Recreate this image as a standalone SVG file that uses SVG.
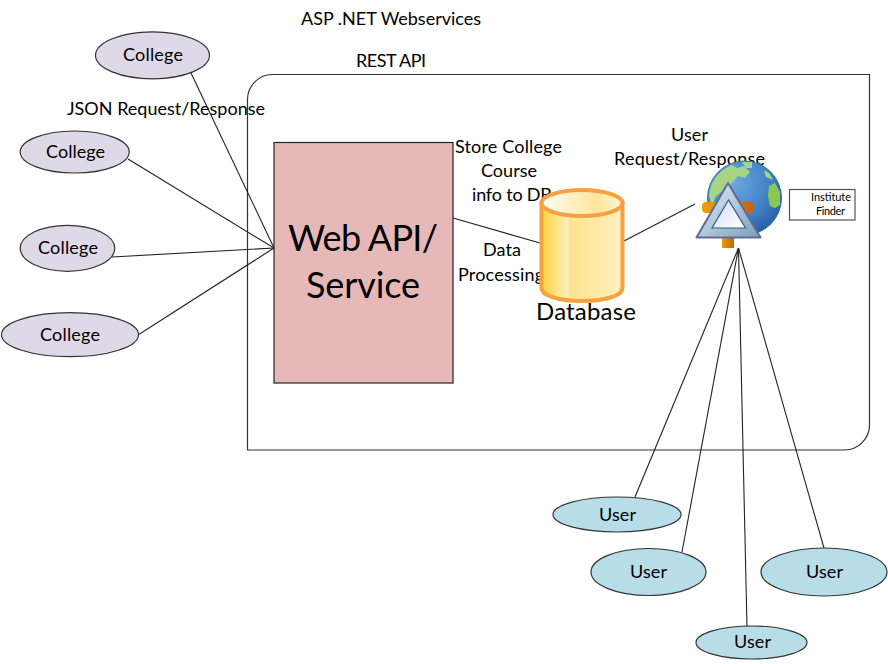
<svg xmlns="http://www.w3.org/2000/svg" width="888" height="664" viewBox="0 0 888 664">
<style>
text{font-family:"Lato","Liberation Sans",sans-serif;font-size:18px;fill:#000;text-anchor:start}
.c{fill:#dfd8e6;stroke:#333;stroke-width:1.2}
.u{fill:#b7dde8;stroke:#333;stroke-width:1.2}
.l{stroke:#222;stroke-width:1.1;fill:none}
</style>
<defs>
<linearGradient id="dbBody" x1="0" x2="1" y1="0" y2="0"><stop offset="0" stop-color="#fdd23a"/><stop offset=".33" stop-color="#fff0c0"/><stop offset=".34" stop-color="#fde28a"/><stop offset="1" stop-color="#fff2c0"/></linearGradient>
<linearGradient id="dbTop" x1="0" x2="1" y1="0" y2="0"><stop offset="0" stop-color="#fffdf5"/><stop offset=".7" stop-color="#fde59a"/><stop offset="1" stop-color="#fff6d8"/></linearGradient>
<radialGradient id="globe" cx=".35" cy=".3" r=".85"><stop offset="0" stop-color="#6ea8e0"/><stop offset=".6" stop-color="#3f7fc4"/><stop offset="1" stop-color="#1f4f98"/></radialGradient>
<linearGradient id="bar" x1="0" x2="1" y1="0" y2="0"><stop offset="0" stop-color="#eea000"/><stop offset="1" stop-color="#c86400"/></linearGradient>
<linearGradient id="tri" x1="0" x2="1" y1="0" y2="1"><stop offset="0" stop-color="#e4f3f6"/><stop offset="1" stop-color="#7d9db8"/></linearGradient>
<linearGradient id="triIn" x1="0" x2="1" y1="0" y2="1"><stop offset="0" stop-color="#d3d8f2"/><stop offset="1" stop-color="#ffffff"/></linearGradient>
</defs>

<g id="boundary"><path d="M247.500 450V99.500A25 25 0 0 1 272.500 74.500H869.500V425A25 25 0 0 1 844.500 450Z" fill="#fff" stroke="#333" stroke-width="1.200"/></g>

<g id="labels">
<text x="301" y="25" textLength="180">ASP .NET Webservices</text>
<text x="356" y="67" textLength="70">REST API</text>
<text x="67" y="115" textLength="198">JSON Request/Response</text>
<text x="455" y="153" textLength="107">Store College</text>
<text x="481" y="177" textLength="56">Course</text>
<text x="472" y="201" textLength="80">info to DB</text>
<text x="483" y="256" textLength="38">Data</text>
<text x="458" y="281" textLength="86">Processing</text>
<text x="671" y="141" textLength="37">User</text>
<text x="614" y="165" textLength="151">Request/Response</text>
</g>

<g id="connectors">
<line class="l" x1="191" y1="73" x2="274" y2="248"/>
<line class="l" x1="128" y1="159" x2="274" y2="248"/>
<line class="l" x1="112" y1="257" x2="274" y2="248"/>
<line class="l" x1="138" y1="335" x2="274" y2="248"/>
<line class="l" x1="453" y1="218" x2="540" y2="243"/>
<line class="l" x1="624" y1="241" x2="695" y2="204"/>
<line class="l" x1="738.500" y1="248" x2="635" y2="497"/>
<line class="l" x1="738.500" y1="248" x2="682" y2="552"/>
<line class="l" x1="738.500" y1="248" x2="747" y2="627"/>
<line class="l" x1="738.500" y1="248" x2="824" y2="548"/>
</g>

<g id="college1"><ellipse class="c" cx="152.500" cy="55.300" rx="57" ry="23.500"/><text x="123" y="61" textLength="60">College</text></g>
<g id="college2"><ellipse class="c" cx="74.700" cy="152" rx="54.500" ry="21"/><text x="46" y="158" textLength="59">College</text></g>
<g id="college3"><ellipse class="c" cx="67.500" cy="248.300" rx="47.300" ry="23"/><text x="38" y="254" textLength="60">College</text></g>
<g id="college4"><ellipse class="c" cx="70" cy="334.700" rx="68.500" ry="22"/><text x="40" y="341" textLength="60">College</text></g>

<g id="webapi"><rect x="274" y="142.500" width="179" height="240.500" fill="#e6b8b7" stroke="#222" stroke-width="1.200"/>
<text x="288" y="251" textLength="150" style="font-size:36px">Web API/</text>
<text x="306" y="298" textLength="114" style="font-size:36px">Service</text></g>

<g id="database">
<path d="M541.500 203V288C541.500 296 560 301 582 301S622.500 296 622.500 288V203Z" fill="url(#dbBody)" stroke="#f7a040" stroke-width="4"/>
<ellipse cx="582" cy="203" rx="40.500" ry="13" fill="url(#dbTop)" stroke="#f7a040" stroke-width="4"/>
<text x="536" y="320" textLength="100" style="font-size:24px">Database</text>
</g>

<g id="webservice">
<circle cx="744.500" cy="198" r="37" fill="url(#globe)" stroke="#2a7a9a"/>
<path d="M709 196C710 180 720 170 732 165L737 168L744 166L750 172L745 178L738 176L733 182L724 190L716 196L712 206Z" fill="#a6d486"/>
<path d="M742 162L752 162L752 168L746 168Z" fill="#a6d486"/>
<path d="M769 186L775 183L780 192L780 205L775 208L770 206L768 196Z" fill="#8cc850"/>
<path d="M764 170L769 173L773 180L766 177Z" fill="#a6d486"/>
<rect x="702" y="202" width="52" height="11" rx="4" fill="url(#bar)"/>
<rect x="722" y="238" width="12" height="10" fill="url(#bar)"/>
<path d="M728 183L696.500 237.500H760.500Z" fill="url(#tri)" stroke="#5f6a9a" stroke-width="2" stroke-linejoin="round"/>
<path d="M728.500 200L712 228H745.500Z" fill="url(#triIn)" stroke="#2f5f96" stroke-width="1.200"/>
</g>

<g id="finder"><rect x="789.500" y="189.500" width="65.500" height="30.500" fill="#fff" stroke="#555" stroke-width="1.200"/>
<text x="811" y="201" textLength="40" style="font-size:11px">Institute</text>
<text x="816" y="215" textLength="29" style="font-size:11px">Finder</text></g>

<g id="user1"><ellipse class="u" cx="617" cy="514.500" rx="64" ry="17.500"/><text x="599" y="521" textLength="37">User</text></g>
<g id="user2"><ellipse class="u" cx="648.500" cy="572" rx="57.500" ry="23.500"/><text x="630" y="578" textLength="37">User</text></g>
<g id="user3"><ellipse class="u" cx="824" cy="572" rx="63" ry="24"/><text x="806" y="578" textLength="37">User</text></g>
<g id="user4"><ellipse class="u" cx="751.500" cy="642.500" rx="55.500" ry="16.500"/><text x="734" y="648" textLength="37">User</text></g>
</svg>
